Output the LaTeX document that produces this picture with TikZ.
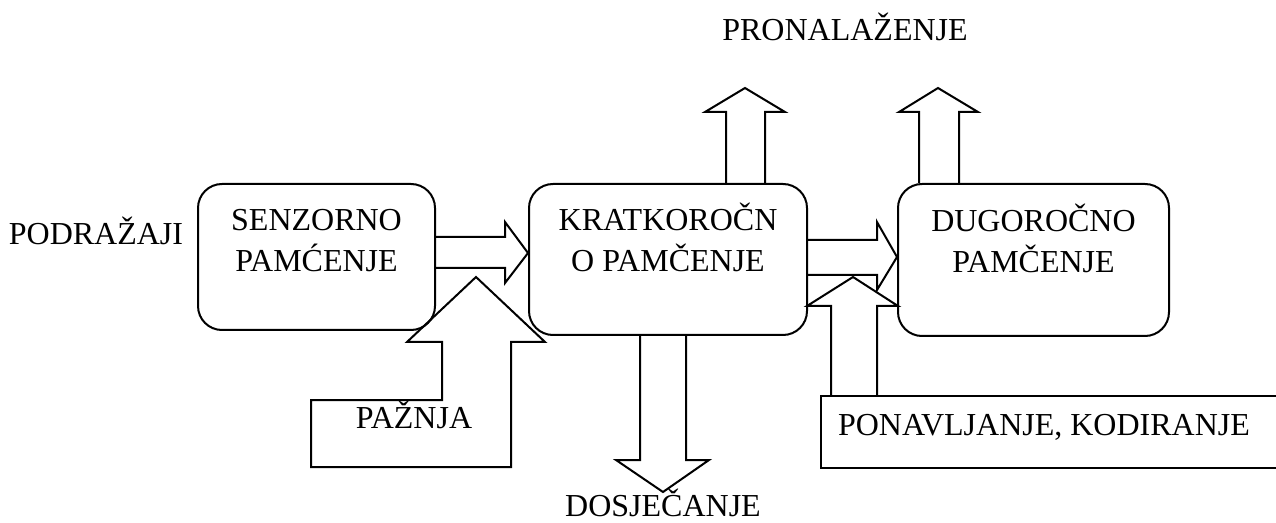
\documentclass[tikz,border=0pt]{standalone}
\usepackage{fontspec}
\setmainfont{Liberation Serif}
\usetikzlibrary{positioning}
\begin{document}
\begin{tikzpicture}[x=0.75pt,y=-0.75pt,line width=1.5pt,
    box/.style={draw,rectangle,rounded corners=18pt},
    txt/.style={font=\fontsize{24}{30.75}\selectfont,inner sep=0pt,align=center,anchor=base},
    blk/.style={line join=miter}]
  \clip (0,0) rectangle (1276,523);
  \node[box,minimum width=177.75pt,minimum height=109.5pt] (a) at (316.5,257) {};
  \node[box,minimum width=208.5pt,minimum height=113.25pt] (b) at (668,259.5) {};
  \node[box,minimum width=203.25pt,minimum height=114pt] (c) at (1033.5,260) {};
  \node[draw,rectangle,minimum width=351.75pt,minimum height=54pt] (d) at (1055.5,432) {};
  \node[txt] (at) at (316.5,272) {SENZORNO\\PAMĆENJE};
  \node[txt] (bt) at (668,272) {KRATKOROČN\\O PAMČENJE};
  \node[txt] (ct) at (1033.5,273) {DUGOROČNO\\PAMČENJE};
  \node[txt] (dt) at (1044,435) {PONAVLJANJE, KODIRANJE};
  \node[txt] (podr) at (96,245) {PODRAŽAJI};
  \node[txt] (pron) at (845,41) {PRONALAŽENJE};
  \node[txt] (paz) at (414,428) {PAŽNJA};
  \node[txt] (dosj) at (663,516) {DOSJEČANJE};
  % strelice
  \draw[blk] (a.east |- 0,237) -- (505,237) -- (505,222) -- (b.west |- 0,253)
    -- (505,283) -- (505,268) -- (a.east |- 0,268);
  \draw[blk] (b.east |- 0,240) -- (877,240) -- (877,222) -- (c.west |- 0,257)
    -- (877,290) -- (877,275) -- (b.east |- 0,275);
  \draw[blk] (726,0 |- b.north) -- (726,112) -- (705,112) -- (745,88)
    -- (785,112) -- (765,112) -- (765,0 |- b.north);
  \draw[blk] (919,0 |- c.north) -- (919,112) -- (899,112) -- (938,88)
    -- (978,112) -- (959,112) -- (959,0 |- c.north);
  \draw[blk] (640,0 |- b.south) -- (640,460) -- (616,460) -- (663,492)
    -- (709,460) -- (686,460) -- (686,0 |- b.south);
  \draw[blk] (831,0 |- d.north) -- (831,306) -- (807,306) -- (853,277)
    -- (898,306) -- (877,306) -- (877,0 |- d.north);
  \draw[blk] (442,342) -- (407,342) -- (476,277) -- (545,342) -- (511,342)
    -- (511,467) -- (311,467) -- (311,400) -- (442,400) -- cycle;
\end{tikzpicture}
\end{document}
